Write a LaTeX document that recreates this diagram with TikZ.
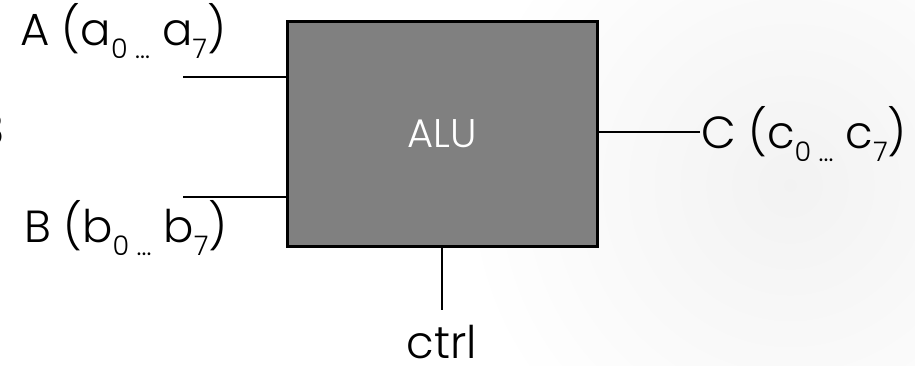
\documentclass[tikz,border=0pt]{standalone}
\usepackage{fontspec}
\setmainfont{Poppins}[UprightFont={* Light}]
\usetikzlibrary{positioning}

\newcommand{\lbl}{\fontsize{45}{50}\selectfont}
\newcommand{\sidx}[1]{\raisebox{-0.3em}{\fontsize{27}{30}\selectfont #1}}

\tikzset{
  alubox/.style={draw=black, line width=3pt, fill=black!50, rectangle,
                 minimum width=310pt, minimum height=225pt, inner sep=0pt,
                 text=white, font=\fontsize{40}{44}\selectfont},
  port/.style={inner sep=0pt, text depth=0pt, font=\lbl},
  wire/.style={line width=1.3pt, black},
}

\begin{document}
\begin{tikzpicture}[x=1pt, y=-1pt]

  % page frame and soft backdrop
  \clip (0,0) rectangle (915,365);
  \fill[white] (0,0) rectangle (915,365);
  \shade[inner color=black!5, outer color=white] (790,185) circle (330);

  %% ALU block
  \node[alubox] (alu) at (442,134) {ALU};

  %% Ports
  \coordinate (ain)  at (183,77);
  \coordinate (bin)  at (183,197);
  \coordinate (cout) at (700,132);
  \coordinate (cin)  at (442,310);

  \draw[wire] (ain)  -- (ain -| 287,0);
  \draw[wire] (bin)  -- (bin -| 287,0);
  \draw[wire] (597,0 |- cout) -- (cout);
  \draw[wire] (cin |- 0,245) -- (cin);

  %% Port labels
  \node[port, anchor=base west] (alab) at (20,45)
    {A (a\sidx{0 ...} a\sidx{7})};
  \node[port, anchor=base west] (blab) at (24,242)
    {B (b\sidx{0 ...} b\sidx{7})};
  \node[port, anchor=base west] (clab) at (701,148)
    {C (c\sidx{0 ...} c\sidx{7})};
  \node[port, anchor=base] (ctrl) at (442,358) {ctrl};

  %% cut-off width mark at the left edge
  \node[port, anchor=base east] (width) at (5,145) {8};

\end{tikzpicture}
\end{document}
